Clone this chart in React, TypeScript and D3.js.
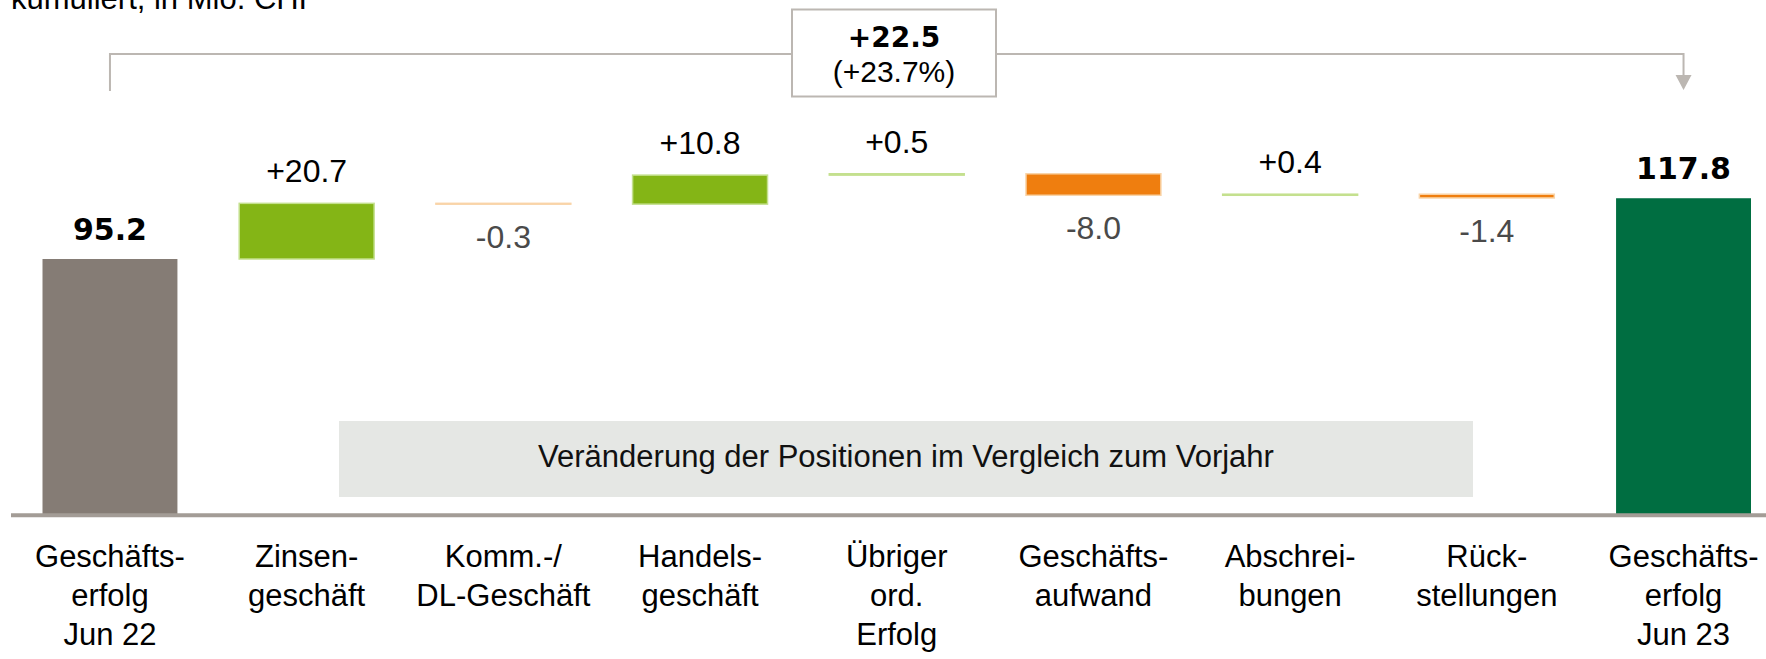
import React from "react";
import * as d3 from "d3";

const categories: string[][] = [
  ["Geschäfts-", "erfolg", "Jun 22"],
  ["Zinsen-", "geschäft"],
  ["Komm.-/", "DL-Geschäft"],
  ["Handels-", "geschäft"],
  ["Übriger", "ord.", "Erfolg"],
  ["Geschäfts-", "aufwand"],
  ["Abschrei-", "bungen"],
  ["Rück-", "stellungen"],
  ["Geschäfts-", "erfolg", "Jun 23"],
];
const startValue = 95.2;
const deltas = [20.7, -0.3, 10.8, 0.5, -8.0, 0.4, -1.4];
const endValue = 117.8;
const changeValue = 22.5;
const changePct = 23.7;
const title = "kumuliert, in Mio. CHF";
const boxNote = "Veränderung der Positionen im Vergleich zum Vorjahr";

const W = 1766;
const H = 659;
const FONT = "'Liberation Sans', Arial, sans-serif";
const BOLD = "'DejaVu Sans', 'Liberation Sans', sans-serif";

type Bar = { i: number; lo: number; hi: number; kind: "start" | "end" | "pos" | "neg"; value: number };

const fmt = (v: number) => (v < 0 ? "-" : "") + d3.format(".1f")(Math.abs(v));

export default function App() {
  const ids = categories.map((_, i) => String(i));
  const x = d3.scaleBand<string>().domain(ids).range([42.5, 1751]).paddingInner(0.314).paddingOuter(0);
  const y = d3.scaleLinear().domain([0, 100]).range([515, 246.1]);
  const bw = x.bandwidth();
  const cx = (i: number) => (x(String(i)) as number) + bw / 2;

  const bars: Bar[] = [];
  bars.push({ i: 0, lo: 0, hi: startValue, kind: "start", value: startValue });
  let cum = startValue;
  deltas.forEach((d, k) => {
    const next = cum + d;
    bars.push({ i: k + 1, lo: Math.min(cum, next), hi: Math.max(cum, next), kind: d >= 0 ? "pos" : "neg", value: d });
    cum = next;
  });
  bars.push({ i: categories.length - 1, lo: 0, hi: endValue, kind: "end", value: endValue });

  const fill = { start: "#857c75", end: "#006e41", pos: "#84b516", neg: "#ef7e0f" };
  const stroke = { start: "none", end: "none", pos: "#c4e08e", neg: "#f9d4a8" };

  const axisY = y(0);
  const bracketY = 54;
  const lx = cx(0);
  const rx = cx(categories.length - 1);
  const box = { x0: 792, x1: 996, y0: 9.5, y1: 96.5 };

  return (
    <svg width={W} height={H} style={{ position: "absolute", left: 0, top: 0, background: "#fff" }}>
      <text x={11} y={9} fontFamily={FONT} fontSize={31} fill="#000">{title}</text>

      {/* bracket */}
      <g stroke="#bcb7b2" strokeWidth={2} fill="none">
        <path d={`M${lx},91 V${bracketY} H${box.x0}`} />
        <path d={`M${box.x1},${bracketY} H${rx} V76`} />
      </g>
      <path d={`M${rx - 8},75 L${rx + 8},75 L${rx},90 Z`} fill="#bcb7b2" />
      <rect x={box.x0} y={box.y0} width={box.x1 - box.x0} height={box.y1 - box.y0} fill="#fff" stroke="#bcb7b2" strokeWidth={2} />
      <text x={(box.x0 + box.x1) / 2} y={46.5} textAnchor="middle" fontFamily={BOLD} fontWeight="bold" fontSize={28} fill="#000">
        {"+" + fmt(changeValue)}
      </text>
      <text x={(box.x0 + box.x1) / 2} y={82} textAnchor="middle" fontFamily={FONT} fontSize={30} fill="#000">
        {"(+" + fmt(changePct) + "%)"}
      </text>

      {/* grey note box */}
      <rect x={339} y={421} width={1473 - 339} height={76} fill="#e5e7e4" />
      <text x={906} y={467} textAnchor="middle" fontFamily={FONT} fontSize={31} fill="#111">{boxNote}</text>

      {/* bars */}
      {bars.map((b) => (
        <rect
          key={b.i}
          x={x(String(b.i)) as number}
          y={y(b.hi)}
          width={bw}
          height={Math.max(y(b.lo) - y(b.hi), 0.5)}
          fill={fill[b.kind]}
          stroke={stroke[b.kind]}
          strokeWidth={stroke[b.kind] === "none" ? 0 : 1.5}
        />
      ))}

      {/* value labels */}
      {bars.map((b) => {
        if (b.kind === "start" || b.kind === "end") {
          return (
            <text key={"v" + b.i} x={cx(b.i)} y={y(b.hi) - 19.5} textAnchor="middle" fontFamily={BOLD} fontWeight="bold" fontSize={30} fill="#000">
              {fmt(b.value)}
            </text>
          );
        }
        if (b.kind === "pos") {
          return (
            <text key={"v" + b.i} x={cx(b.i)} y={y(b.hi) - 21} textAnchor="middle" fontFamily={FONT} fontSize={32} fill="#000">
              {"+" + fmt(b.value)}
            </text>
          );
        }
        return (
          <text key={"v" + b.i} x={cx(b.i)} y={y(b.lo) + 44} textAnchor="middle" fontFamily={FONT} fontSize={32} fill="#4a4a4a">
            {fmt(b.value)}
          </text>
        );
      })}

      {/* axis line */}
      <line x1={11} x2={W} y1={axisY + 0.3} y2={axisY + 0.3} stroke="#a39c96" strokeWidth={4} />

      {/* category labels */}
      {categories.map((lines, i) => (
        <text key={"c" + i} x={cx(i)} textAnchor="middle" fontFamily={FONT} fontSize={31} fill="#000">
          {lines.map((l, j) => (
            <tspan key={j} x={cx(i)} y={567 + j * 39}>{l}</tspan>
          ))}
        </text>
      ))}
    </svg>
  );
}
